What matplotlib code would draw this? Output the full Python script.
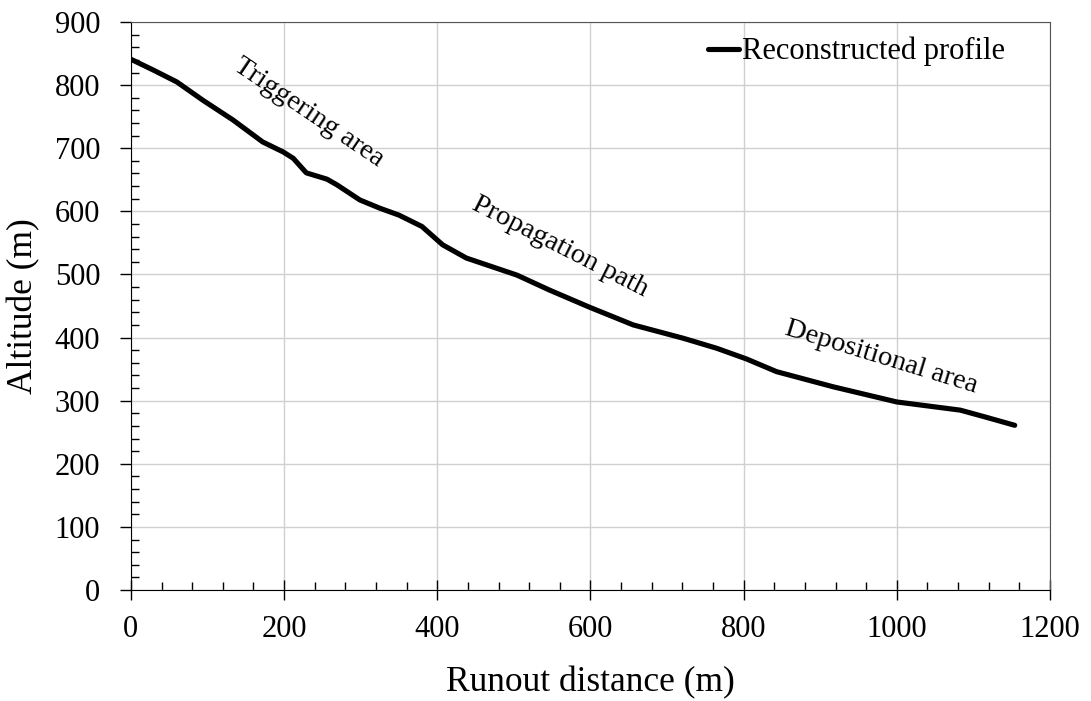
import matplotlib
matplotlib.use('Agg')
import matplotlib.pyplot as plt
from matplotlib.ticker import MultipleLocator

plt.rcParams['font.family'] = ['Liberation Serif', 'DejaVu Serif']

# profile
dist = [0, 29, 60, 94, 133, 172, 199, 212, 229, 256, 269, 299, 325, 350,
        380, 407, 438, 504, 547, 599, 656, 721, 765, 804, 843, 917, 1000,
        1083, 1113, 1154]
alt = [841, 824, 805, 776, 745, 710, 694, 684, 661, 651, 642, 618, 605, 594,
       576, 547, 526, 499, 475, 448, 420, 399, 383, 366, 346, 322, 298,
       285, 275, 261]

# zone labels
zones = ['Triggering area', 'Propagation path', 'Depositional area']
zone_x = [232, 560, 980]
zone_y = [757, 543, 369]
zone_rot = [-34, -27, -17]

fig = plt.figure(figsize=(10.91, 7.01), dpi=100)
ax = fig.add_axes([0.120, 0.1583, 0.8424, 0.8103])

ax.plot(dist, alt, color='black', lw=3.7, solid_joinstyle='round',
        solid_capstyle='round', label='Reconstructed profile')

for t, x, y, r in zip(zones, zone_x, zone_y, zone_rot):
    ax.text(x, y, t, rotation=r, ha='center', va='center', fontsize=20.5,
            rotation_mode='anchor')

ax.set_xlim(0, 1200)
ax.set_ylim(0, 900)
ax.xaxis.set_major_locator(MultipleLocator(200))
ax.xaxis.set_minor_locator(MultipleLocator(40))
ax.yaxis.set_major_locator(MultipleLocator(100))
ax.yaxis.set_minor_locator(MultipleLocator(20))
ax.grid(True, which='major', color='#d0d0d0', lw=1)
ax.set_axisbelow(True)

ax.tick_params(which='major', direction='inout', length=14, width=1,
               labelsize=22)
ax.tick_params(which='minor', direction='in', length=6, width=1)
ax.tick_params(axis='x', which='major', pad=11)
ax.tick_params(axis='y', which='major', direction='out', length=8, pad=14)

for s in ['top', 'right']:
    ax.spines[s].set_color('#555555')
for s in ['left', 'bottom']:
    ax.spines[s].set_color('black')

ax.set_xlabel('Runout distance (m)', fontsize=25.5)
ax.set_ylabel('Altitude (m)', fontsize=25.5)
ax.xaxis.set_label_coords(0.5, (590 - 683) / 568, transform=ax.transAxes)
ax.yaxis.set_label_coords((24 - 131) / 919, 0.5, transform=ax.transAxes)
ax.xaxis.label.set_va('center')
ax.yaxis.label.set_va('center')

ax.legend(loc='upper right', frameon=False, fontsize=22, handlelength=1.0,
          handletextpad=0.1, borderpad=0, borderaxespad=0,
          bbox_to_anchor=(0.951, 0.974))

fig.savefig('out.png', dpi=100)
